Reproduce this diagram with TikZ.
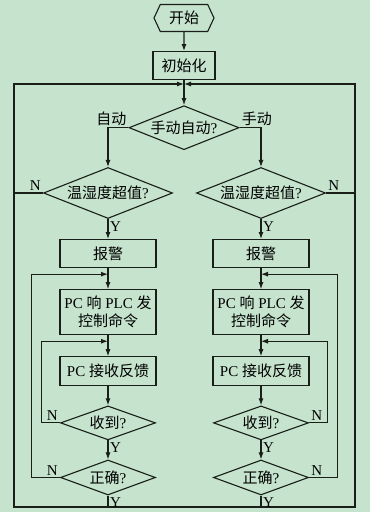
\documentclass[tikz,border=0pt]{standalone}
\usepackage{fontspec}
\setmainfont{Liberation Serif}
\newfontfamily\cjk{Noto Sans CJK SC}
\usepackage{tikz}
\usetikzlibrary{arrows.meta,positioning,shapes.geometric,shapes.symbols}
\definecolor{bggreen}{RGB}{197,227,205}
\definecolor{ink}{RGB}{25,30,25}
\newcommand{\zh}[1]{{\cjk #1}}
\tikzset{
  termbox/.style={signal, signal to=west and east, signal pointer angle=130,
    draw=ink, line width=1.1pt, minimum width=60pt, minimum height=27pt, inner sep=0pt},
  procbox/.style={draw=ink, line width=1.1pt,
    minimum width=96pt, minimum height=28pt, align=center, inner sep=0pt},
  decision/.style={diamond, draw=ink, line width=1.1pt, aspect=2.5, inner sep=0pt, align=center},
  flow/.style={-{Latex[length=7pt,width=5pt]}, line width=1.1pt, draw=ink},
  plain/.style={line width=1.1pt, draw=ink},
  tag/.style={inner sep=2pt}
}

\begin{document}
\begin{tikzpicture}[x=1pt, y=1pt, font=\fontsize{15}{18}\selectfont]
\fill[bggreen] (0,0) rectangle (370,512);
\useasboundingbox (0,0) rectangle (370,512);

\node[termbox] (start) at (184,494) {\zh{开始}};
\node[procbox, minimum width=62pt, below=19pt of start] (init) {\zh{初始化}};
\node[decision, minimum width=110pt, minimum height=44pt, below=25pt of init] (mode) {\zh{手动自动}?};

\coordinate (tl) at (14,428);
\coordinate (tr) at (355,428);
\coordinate (bl) at (14,5);
\coordinate (br) at (355,5);

% automatic branch
\node[decision, minimum width=129pt, minimum height=51pt] (overL) at (108,319) {\zh{温湿度超值}?};
\node[procbox, below=20pt of overL] (alarmL) {\zh{报警}};
\node[procbox, minimum height=45pt, below=21pt of alarmL] (cmdL) {PC \zh{响} PLC \zh{发}\\\zh{控制命令}};
\node[procbox, minimum height=29pt, below=21pt of cmdL] (recvL) {PC \zh{接收反馈}};
\node[decision, minimum width=95pt, minimum height=34pt, below=19pt of recvL] (gotL) {\zh{收到}?};
\node[decision, minimum width=95pt, minimum height=35pt, below=19pt of gotL] (okL) {\zh{正确}?};

% manual branch
\node[decision, minimum width=129pt, minimum height=51pt] (overR) at (261,319) {\zh{温湿度超值}?};
\node[procbox, below=20pt of overR] (alarmR) {\zh{报警}};
\node[procbox, minimum height=45pt, below=21pt of alarmR] (cmdR) {PC \zh{响} PLC \zh{发}\\\zh{控制命令}};
\node[procbox, minimum height=29pt, below=21pt of cmdR] (recvR) {PC \zh{接收反馈}};
\node[decision, minimum width=95pt, minimum height=34pt, below=19pt of recvR] (gotR) {\zh{收到}?};
\node[decision, minimum width=95pt, minimum height=35pt, below=19pt of gotR] (okR) {\zh{正确}?};

\draw[flow] (start) -- (init);
\draw[flow] (init) -- (mode);
\draw[flow] (mode.west) -| (overL.north);
\draw[flow] (mode.east) -| (overR.north);

\draw[flow] (overL) -- (alarmL);
\draw[flow] (alarmL) -- (cmdL);
\draw[flow] (cmdL) -- (recvL);
\draw[flow] (recvL) -- (gotL);
\draw[flow] (gotL) -- (okL);
\draw[flow] (okL.west) -- ([xshift=-28.5pt]okL.west) |- ([yshift=-6pt]alarmL.south);
\draw[flow] (gotL.west) -- ([xshift=-18.5pt]gotL.west) |- ([yshift=-6pt]cmdL.south);

\draw[flow] (overR) -- (alarmR);
\draw[flow] (alarmR) -- (cmdR);
\draw[flow] (cmdR) -- (recvR);
\draw[flow] (recvR) -- (gotR);
\draw[flow] (gotR) -- (okR);
\draw[flow] (okR.east) -- ([xshift=28.5pt]okR.east) |- ([yshift=-6pt]alarmR.south);
\draw[flow] (gotR.east) -- ([xshift=18.5pt]gotR.east) |- ([yshift=-6pt]cmdR.south);

% outer loop
\draw[plain] (overL.west) -- (overL.west -| tl);
\draw[plain] (overR.east) -- (overR.east -| tr);
\draw[flow] (okL.south) |- (bl) -- (tl) -- (tl -| init.south);
\draw[flow] (okR.south) |- (br) -- (tr) -- (tr -| init.south);
\draw[plain] (okL.south |- bl) -- (okR.south |- br);

% labels
\node[tag, above left] (autotag) at (mode.west) {\zh{自动}};
\node[tag, above right] (mantag) at (mode.east) {\zh{手动}};
\node[tag, above left] (nOverL) at (overL.west) {N};
\node[tag, above right] (nOverR) at (overR.east) {N};
\node[tag, below right] (yOverL) at (overL.south) {Y};
\node[tag, below right] (yOverR) at (overR.south) {Y};
\node[tag, above left] (nGotL) at (gotL.west) {N};
\node[tag, above right] (nGotR) at (gotR.east) {N};
\node[tag, below right] (yGotL) at (gotL.south) {Y};
\node[tag, below right] (yGotR) at (gotR.south) {Y};
\node[tag, above left] (nOkL) at (okL.west) {N};
\node[tag, above right] (nOkR) at (okR.east) {N};
\node[tag, below right] (yOkL) at (okL.south) {Y};
\node[tag, below right] (yOkR) at (okR.south) {Y};
\end{tikzpicture}
\end{document}
